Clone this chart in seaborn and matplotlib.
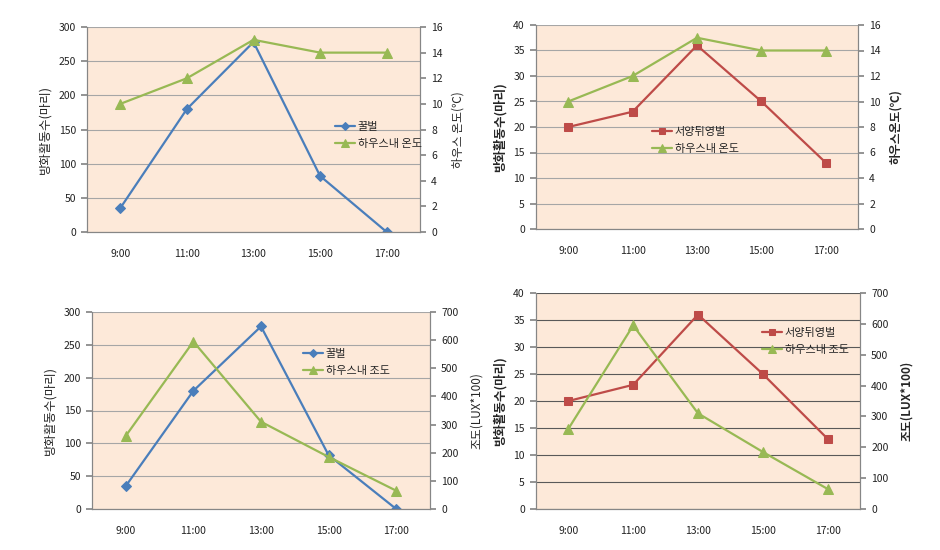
import numpy as np
import pandas as pd
import matplotlib
matplotlib.use("Agg")
import matplotlib.pyplot as plt
import seaborn as sns

times = ["9:00", "11:00", "13:00", "15:00", "17:00"]
honeybee = [35, 180, 278, 82, 0]
bumblebee = [20, 23, 36, 25, 13]
temp = [10, 12, 15, 14, 14]
lux = [260, 595, 310, 185, 65]

sns.set_theme(style="white")
plt.rcParams['font.family'] = ['Noto Sans CJK KR', 'DejaVu Sans']

BLUE = "#4a7ebb"
RED = "#be4b48"
GREEN = "#98b954"
BG = "#fde9d9"

df = pd.DataFrame({"time": times, "pos": np.arange(len(times)),
                   "honeybee": honeybee, "bumblebee": bumblebee,
                   "temp": temp, "lux": lux})

fig = plt.figure(figsize=(9.4, 5.5), dpi=100)

def px(l, r, t, b):
    return [l / 940, (550 - b) / 550, (r - l) / 940, (b - t) / 550]

panels = [
    dict(rect=px(87, 420, 27, 232), bee="honeybee", bee_lab="꿀벌", bee_col=BLUE, mk="D", ms=5,
         env="temp", env_lab="하우스내 온도", lmax=300, lstep=50, rmax=16, rstep=2,
         rlabel="하우스 온도(℃)", bold=False, grid="#a6a6a6", leg=(329, 116), rpad=6),
    dict(rect=px(536, 858, 25, 229), bee="bumblebee", bee_lab="서양뒤영벌", bee_col=RED, mk="s", ms=6,
         env="temp", env_lab="하우스내 온도", lmax=40, lstep=5, rmax=16, rstep=2,
         rlabel="하우스온도(℃)", bold=True, grid="#a6a6a6", leg=(646, 121), rpad=6),
    dict(rect=px(92, 430, 312, 509), bee="honeybee", bee_lab="꿀벌", bee_col=BLUE, mk="D", ms=5,
         env="lux", env_lab="하우스내 조도", lmax=300, lstep=50, rmax=700, rstep=100,
         rlabel="조도(LUX*100)", bold=False, grid="#a6a6a6", leg=(297, 343), rpad=8),
    dict(rect=px(536, 860, 293, 509), bee="bumblebee", bee_lab="서양뒤영벌", bee_col=RED, mk="s", ms=6,
         env="lux", env_lab="하우스내 조도", lmax=40, lstep=5, rmax=700, rstep=100,
         rlabel="조도(LUX*100)", bold=True, grid="#595959", leg=(756, 322), rpad=8),
]

for p in panels:
    ax = fig.add_axes(p["rect"])
    ax.set_facecolor(BG)
    ax2 = ax.twinx()
    sns.lineplot(data=df, x="pos", y=p["bee"], ax=ax, color=p["bee_col"], marker=p["mk"],
                 markersize=p["ms"], markeredgecolor=p["bee_col"], linewidth=1.6,
                 label=p["bee_lab"], legend=False)
    sns.lineplot(data=df, x="pos", y=p["env"], ax=ax2, color=GREEN, marker="^",
                 markersize=7, markeredgecolor=GREEN, linewidth=1.6,
                 label=p["env_lab"], legend=False)

    ax.set_xlim(-0.5, len(times) - 0.5)
    ax.set_ylim(0, p["lmax"])
    ax2.set_ylim(0, p["rmax"])
    ax.set_yticks(np.arange(0, p["lmax"] + 1, p["lstep"]))
    ax2.set_yticks(np.arange(0, p["rmax"] + 1, p["rstep"]))
    ax.set_xticks(df["pos"])
    ax.set_xticklabels(times)
    ax.set_xticks(np.arange(-0.5, len(times), 1.0), minor=True)
    ax.tick_params(axis="x", which="major", length=0, pad=12, labelsize=7.5, colors="#222222")
    ax.tick_params(axis="x", which="minor", length=4, color="#868686", direction="out")
    for a in (ax, ax2):
        a.tick_params(axis="y", length=4, direction="out", labelsize=7.5,
                      colors="#222222", pad=4)
        a.tick_params(axis="y", color="#868686")
    ax.grid(axis="y", color=p["grid"], linewidth=0.8)
    ax.set_axisbelow(True)
    ax.set_xlabel("")
    w = "bold" if p["bold"] else "normal"
    ax.set_ylabel("방화활동수(마리)", fontsize=9, fontweight=w, labelpad=5)
    ax2.set_ylabel(p["rlabel"], fontsize=8.5, fontweight=w, labelpad=p["rpad"])
    for a in (ax, ax2):
        a.spines["top"].set_visible(False)
        for s in ("left", "right", "bottom"):
            a.spines[s].set_color("#868686")
            a.spines[s].set_linewidth(0.8)
    h1, l1 = ax.get_legend_handles_labels()
    h2, l2 = ax2.get_legend_handles_labels()
    lx, ly = p["leg"]
    fig.legend(h1 + h2, l1 + l2, loc="upper left", bbox_to_anchor=(lx / 940, 1 - ly / 550),
               frameon=False, fontsize=8, borderpad=0, handlelength=1.8, handletextpad=0.3,
               labelspacing=0.7, markerscale=0.8)

fig.savefig("out.png", dpi=100)
